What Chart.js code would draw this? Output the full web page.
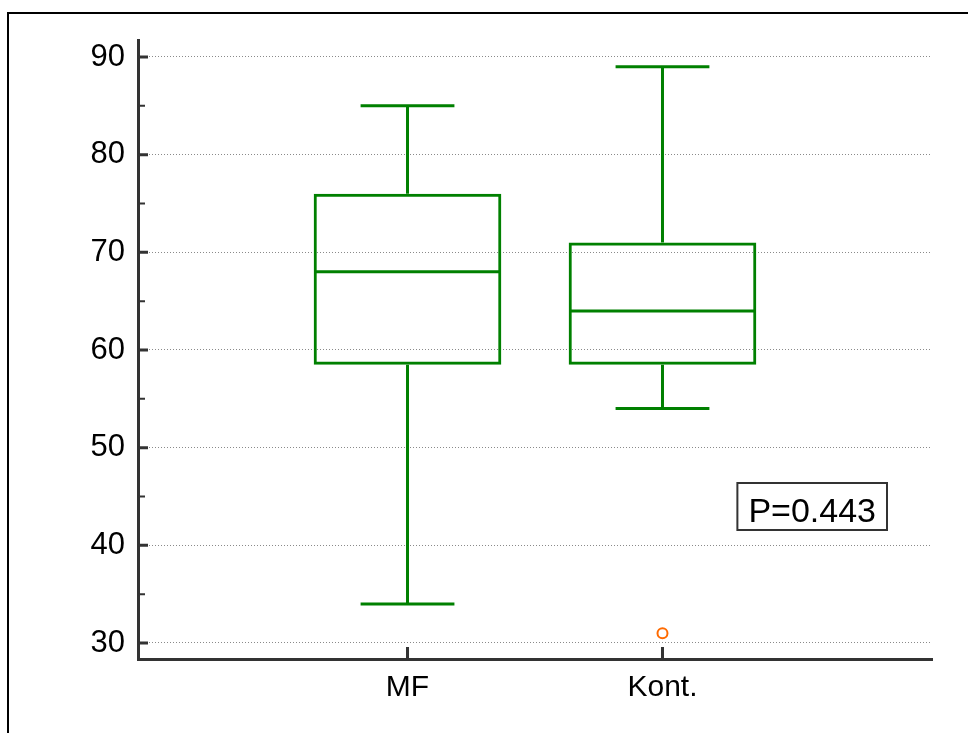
<!DOCTYPE html>
<html>
<head>
<meta charset="utf-8">
<script src="https://cdn.jsdelivr.net/npm/chart.js@4.4.0/dist/chart.umd.min.js"></script>
<style>
  body { margin: 0; background: #fff; }
  #wrap { position: relative; width: 968px; height: 733px; overflow: hidden; }
  #frame { position: absolute; left: 7px; top: 12px; width: 1000px; height: 800px;
           border-left: 2px solid #000; border-top: 2px solid #000; }
  canvas { position: absolute; left: 0; top: 0; }
</style>
</head>
<body>
<div id="wrap">
  <div id="frame"></div>
  <canvas id="chart" width="968" height="733"></canvas>
</div>
<script>
const categories = ['MF', 'Kont.']
const q1 = [58.5, 58.5]
const q3 = [76, 71]
const medians = [68, 64]
const whiskerLow = [34, 54]
const whiskerHigh = [85, 89]
const outliers = [[], [31]]
const yMajorTicks = [30, 40, 50, 60, 70, 80, 90]
const yMinorTicks = [35, 45, 55, 65, 75, 85]
const pValueText = 'P=0.443'

const green = '#008000'
const axisColor = '#333333'
const fontFamily = "'Liberation Sans', Arial, sans-serif"

// whiskers, caps, medians and the axis tick marks, all placed through the scales
const boxPlotPlugin = {
    id: 'boxPlotParts',
    afterDatasetsDraw(chart) {
        const ctx = chart.ctx
        const xs = chart.scales.x
        const ys = chart.scales.y
        const bars = chart.getDatasetMeta(0).data
        ctx.save()
        ctx.strokeStyle = green
        ctx.lineWidth = 3
        ctx.lineCap = 'butt'
        for (let i = 0; i < categories.length; i++) {
            const cx = xs.getPixelForValue(i + 1)
            const half = bars[i].width / 2
            const cap = half / 2
            ctx.beginPath()
            // median
            ctx.moveTo(cx - half + 1, ys.getPixelForValue(medians[i]))
            ctx.lineTo(cx + half - 1, ys.getPixelForValue(medians[i]))
            // upper whisker
            ctx.moveTo(cx, ys.getPixelForValue(q3[i]))
            ctx.lineTo(cx, ys.getPixelForValue(whiskerHigh[i]))
            ctx.moveTo(cx - cap, ys.getPixelForValue(whiskerHigh[i]))
            ctx.lineTo(cx + cap, ys.getPixelForValue(whiskerHigh[i]))
            // lower whisker
            ctx.moveTo(cx, ys.getPixelForValue(q1[i]))
            ctx.lineTo(cx, ys.getPixelForValue(whiskerLow[i]))
            ctx.moveTo(cx - cap, ys.getPixelForValue(whiskerLow[i]))
            ctx.lineTo(cx + cap, ys.getPixelForValue(whiskerLow[i]))
            ctx.stroke()
        }
        ctx.restore()
    },
    afterDraw(chart) {
        const ctx = chart.ctx
        const area = chart.chartArea
        const xs = chart.scales.x
        const ys = chart.scales.y
        ctx.save()
        ctx.strokeStyle = axisColor
        // y tick marks point inwards
        ctx.lineWidth = 3
        ctx.beginPath()
        yMajorTicks.forEach(v => {
            const y = ys.getPixelForValue(v)
            ctx.moveTo(area.left, y); ctx.lineTo(area.left + 10, y)
        })
        ctx.stroke()
        ctx.lineWidth = 2
        ctx.beginPath()
        yMinorTicks.forEach(v => {
            const y = ys.getPixelForValue(v)
            ctx.moveTo(area.left, y); ctx.lineTo(area.left + 7, y)
        })
        ctx.stroke()
        // x tick marks point upwards
        ctx.lineWidth = 3
        ctx.beginPath()
        categories.forEach((c, i) => {
            const x = xs.getPixelForValue(i + 1)
            ctx.moveTo(x, area.bottom); ctx.lineTo(x, area.bottom - 12)
        })
        ctx.stroke()

        // P value label
        ctx.font = '34px ' + fontFamily
        const tw = ctx.measureText(pValueText).width
        const right = area.right - 45
        const top = 483
        const left = right - tw - 22
        ctx.fillStyle = '#fff'
        ctx.fillRect(left, top, tw + 22, 47)
        ctx.lineWidth = 2
        ctx.strokeStyle = '#333'
        ctx.strokeRect(left, top, tw + 22, 47)
        ctx.fillStyle = '#000'
        ctx.textBaseline = 'alphabetic'
        ctx.fillText(pValueText, left + 11, top + 39)
        ctx.restore()
    }
}

const boxData = categories.map((c, i) => ({x: i + 1, y: [q1[i], q3[i]]}))
const outlierData = []
outliers.forEach((list, i) => list.forEach(v => outlierData.push({x: i + 1, y: v})))

const ctx = document.getElementById('chart')
const myChart = new Chart(ctx, {
    type: 'bar',
    data: {
        datasets: [{
            data: boxData,
            backgroundColor: 'rgba(255,255,255,0)',
            borderColor: green,
            borderWidth: 3,
            borderSkipped: false,
            inflateAmount: 0,
            barPercentage: 0.736,
            categoryPercentage: 1
        }, {
            type: 'scatter',
            data: outlierData,
            pointStyle: 'circle',
            pointRadius: 5,
            borderWidth: 2,
            borderColor: '#ff6a00',
            backgroundColor: '#fff'
        }]
    },
    options: {
        responsive: false,
        animation: false,
        layout: { padding: { top: 40, right: 36, left: 0, bottom: 0 } },
        plugins: { legend: { display: false }, tooltip: { enabled: false } },
        scales: {
            x: {
                type: 'linear',
                offset: false,
                min: -0.057,
                max: 3.057,
                afterBuildTicks: (scale) => { scale.ticks = categories.map((c, i) => ({value: i + 1})) },
                afterFit: (scale) => { scale.height = 74 },
                grid: { display: false, drawTicks: false, offset: false },
                border: { display: true, color: axisColor, width: 3 },
                ticks: {
                    autoSkip: false,
                    maxRotation: 0,
                    padding: 11,
                    color: '#000',
                    font: { size: 30, family: fontFamily },
                    callback: (value) => categories[value - 1]
                }
            },
            y: {
                type: 'linear',
                min: 28.36,
                max: 91.74,
                afterBuildTicks: (scale) => { scale.ticks = yMajorTicks.map(v => ({value: v})) },
                afterFit: (scale) => { scale.width = 138 },
                grid: { color: '#8a8a8a', lineWidth: 1, drawTicks: false },
                border: { display: true, color: axisColor, width: 3, dash: [1, 2] },
                ticks: {
                    padding: 13,
                    color: '#000',
                    font: { size: 31, family: fontFamily }
                }
            }
        }
    },
    plugins: [boxPlotPlugin]
})
</script>
</body>
</html>
